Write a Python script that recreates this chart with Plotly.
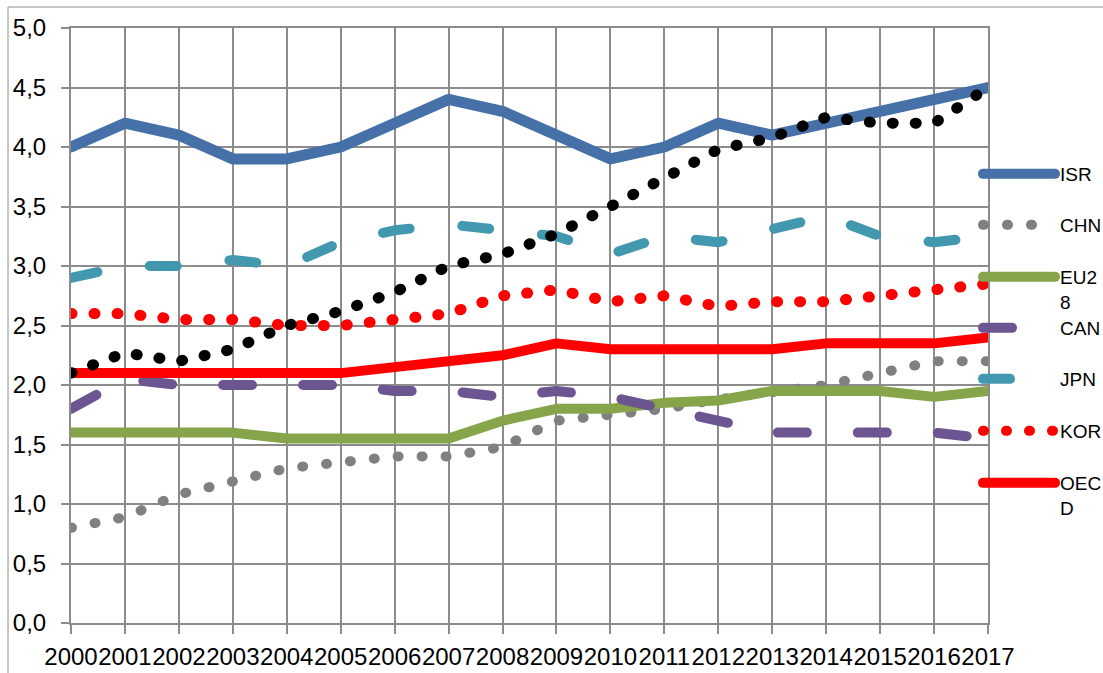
import plotly.graph_objects as go

years = list(range(2000, 2018))
isr = [4.0, 4.2, 4.1, 3.9, 3.9, 4.0, 4.2, 4.4, 4.3, 4.1, 3.9, 4.0, 4.2, 4.1, 4.2, 4.3, 4.4, 4.5]
chn = [0.8, 0.89, 1.08, 1.2, 1.3, 1.35, 1.4, 1.4, 1.48, 1.7, 1.75, 1.8, 1.88, 1.95, 2.0, 2.1, 2.2, 2.2]
eu28 = [1.6, 1.6, 1.6, 1.6, 1.55, 1.55, 1.55, 1.55, 1.7, 1.8, 1.8, 1.85, 1.87, 1.95, 1.95, 1.95, 1.9, 1.95]
can = [1.8, 2.05, 2.0, 2.0, 2.0, 2.0, 1.95, 1.95, 1.9, 1.95, 1.9, 1.8, 1.7, 1.6, 1.6, 1.6, 1.6, 1.55]
jpn = [2.9, 3.0, 3.0, 3.05, 3.0, 3.2, 3.3, 3.35, 3.3, 3.25, 3.1, 3.25, 3.2, 3.3, 3.42, 3.25, 3.2, 3.25]
kor = [2.6, 2.6, 2.55, 2.55, 2.5, 2.5, 2.55, 2.6, 2.75, 2.8, 2.7, 2.75, 2.66, 2.7, 2.7, 2.75, 2.8, 2.85]
oecd = [2.1, 2.1, 2.1, 2.1, 2.1, 2.1, 2.15, 2.2, 2.25, 2.35, 2.3, 2.3, 2.3, 2.3, 2.35, 2.35, 2.35, 2.4]
unlabeled = [2.1, 2.27, 2.2, 2.3, 2.5, 2.62, 2.78, 3.0, 3.1, 3.27, 3.5, 3.73, 3.98, 4.08, 4.25, 4.2, 4.2, 4.5]

series = [
    ("ISR", isr, "#4570A8", 11, "solid", "legend"),
    ("CHN", chn, "#808080", 10, "1px,23px", "legend2"),
    ("EU2<br>8", eu28, "#86A44A", 10, "solid", "legend3"),
    ("CAN", can, "#6D5591", 10, "29px,51px", "legend4"),
    ("JPN", jpn, "#4198AF", 10, "27px,53px", "legend5"),
    ("KOR", kor, "#FF0000", 11, "1px,22px", "legend6"),
    ("OEC<br>D", oecd, "#FF0000", 10, "solid", "legend7"),
]

fig = go.Figure()
for name, vals, color, w, dash, lg in series:
    fig.add_trace(go.Scatter(x=years, y=vals, name=name, mode="lines",
                             line=dict(color=color, width=w, dash=dash),
                             legend=lg))
fig.add_trace(go.Scatter(x=years, y=unlabeled, name="", mode="lines",
                         line=dict(color="#000000", width=11, dash="1px,22px"),
                         showlegend=False))

W, H = 1103, 673
L, R, T, B = 71, 115, 28, 50
pw, ph = W - L - R, H - T - B

def px2paper_y(py):
    return (H - B - py) / ph

def px2paper_x(px):
    return (px - L) / pw

legend_y = [173, 224, 276, 327, 378, 430, 482]
legend_names = ["legend", "legend2", "legend3", "legend4", "legend5", "legend6", "legend7"]
layout_legends = {}
for lg, py in zip(legend_names, legend_y):
    layout_legends[lg] = dict(
        xref="container", yref="container",
        x=978 / W, y=1 - (py - 18) / H, xanchor="left", yanchor="top",
        bgcolor="rgba(0,0,0,0)", borderwidth=0, valign="top",
        font=dict(family="Liberation Sans", size=19, color="#000000"),
        itemwidth=72,
    )

grid = "#8C8C8C"
tickfont = dict(family="Liberation Sans", size=24, color="#000000")
fig.update_layout(
    width=W, height=H,
    margin=dict(l=L, r=R, t=T, b=B, autoexpand=False),
    paper_bgcolor="white", plot_bgcolor="white",
    separators=",.",
    showlegend=True,
    xaxis=dict(range=[2000, 2017], tickmode="array", tickvals=years,
               ticktext=[str(y) for y in years], showgrid=True, gridcolor=grid,
               gridwidth=2, showline=True, linecolor=grid, linewidth=2,
               mirror=True, ticks="outside", ticklen=9, tickcolor=grid, tickwidth=2,
               tickfont=tickfont, tickangle=0, zeroline=False, automargin=False,
               ticklabelstandoff=2),
    yaxis=dict(range=[0, 5], dtick=0.5, tick0=0, tickformat=".1f", showgrid=True,
               gridcolor=grid, gridwidth=2, showline=True, linecolor=grid,
               linewidth=2, mirror=True, ticks="outside", ticklen=8,
               tickcolor=grid, tickwidth=2, zeroline=False, automargin=False,
               tickfont=tickfont, ticklabelstandoff=10),
    shapes=[dict(type="rect", xref="paper", yref="paper",
                 x0=px2paper_x(8), x1=px2paper_x(1200),
                 y0=px2paper_y(700), y1=px2paper_y(7),
                 line=dict(color="#8C8C8C", width=1), layer="below")],
    **layout_legends,
)

post = """
document.body.style.margin = '0';
document.body.style.padding = '0';
var gd = document.getElementById('{plot_id}');
function fixCaps(){
  gd.querySelectorAll('path.js-line, .legendlines path').forEach(function(p){
    p.style.strokeLinecap = 'round';
    p.style.strokeLinejoin = 'round';
  });
}
fixCaps();
gd.on('plotly_afterplot', fixCaps);
"""
fig.write_html("out.html", post_script=post, config={"displayModeBar": False})
